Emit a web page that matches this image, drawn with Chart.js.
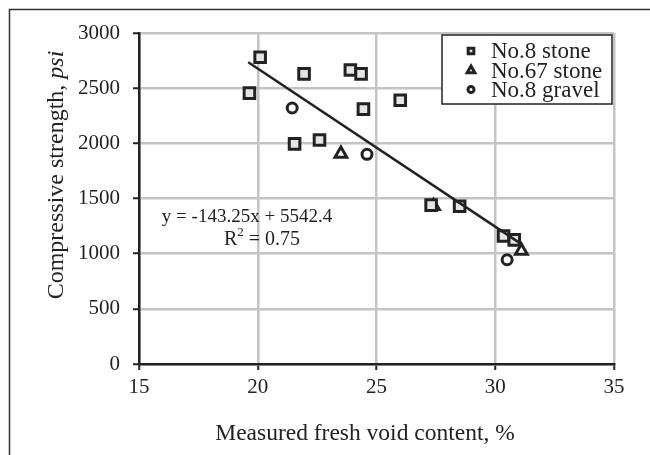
<!DOCTYPE html>
<html>
<head>
<meta charset="utf-8">
<script src="https://cdn.jsdelivr.net/npm/chart.js@4.4.0/dist/chart.umd.min.js"></script>
<style>
  html, body { margin: 0; padding: 0; background: #fff; }
  #wrap { width: 650px; height: 455px; }
</style>
</head>
<body>
<div id="wrap"><canvas id="chart" width="650" height="455"></canvas></div>
<script>
// data
const stoneX = [19.65, 20.1, 21.95, 23.9, 24.35, 24.45, 26.0, 21.55, 22.6, 27.3, 28.5, 30.35, 30.8];
const stoneY = [2455, 2780, 2630, 2665, 2630, 2310, 2390, 1995, 2030, 1440, 1430, 1160, 1125];
const stone67X = [23.5, 27.4, 31.1];
const stone67Y = [1905, 1430, 1025];
const gravelX = [21.45, 24.6, 30.5];
const gravelY = [2320, 1900, 945];
const trendX = [19.6, 31.15];
const trendY = [2735, 1080];
const seriesNames = ["No.8 stone", "No.67 stone", "No.8 gravel"];
const eqLines = ["y = -143.25x + 5542.4", "R", "2", " = 0.75"];

const FONT = "'Liberation Serif', 'Times New Roman', serif";
const INK = "#222";

const pts = (xs, ys) => xs.map((x, i) => ({ x: x, y: ys[i] }));

const markers = [
  { style: "rect", radius: 7.5, fill: "#e4e4e4", lr: 4 },
  { style: "triangle", radius: 6.8, fill: "#fff", lr: 4.4 },
  { style: "circle", radius: 5, fill: "#fff", lr: 3 }
];

const overlay = {
  id: "overlay",
  afterDraw(chart) {
    const ctx = chart.ctx;
    ctx.save();
    // outer frame (only top and left edges visible)
    ctx.strokeStyle = "#333";
    ctx.lineWidth = 1.5;
    ctx.beginPath();
    ctx.moveTo(9.5, 455);
    ctx.lineTo(9.5, 9.5);
    ctx.lineTo(650, 9.5);
    ctx.stroke();

    // legend
    ctx.fillStyle = "#fff";
    ctx.fillRect(442, 35, 170, 69);
    ctx.strokeStyle = INK;
    ctx.lineWidth = 1.5;
    ctx.strokeRect(442, 35, 170, 69);
    ctx.font = "23px " + FONT;
    ctx.textBaseline = "middle";
    ctx.textAlign = "left";
    const rows = [51, 70.5, 89.5];
    seriesNames.forEach((name, i) => {
      const m = markers[i];
      ctx.fillStyle = m.fill;
      ctx.strokeStyle = INK;
      ctx.lineWidth = 3;
      Chart.helpers.drawPoint(ctx, { pointStyle: m.style, radius: m.lr, rotation: 0, borderWidth: 3 }, 471, rows[i]);
      ctx.fillStyle = INK;
      ctx.fillText(name, 491, rows[i] + 1);
    });

    // equation
    ctx.fillStyle = INK;
    ctx.font = "19px " + FONT;
    ctx.textAlign = "center";
    ctx.fillText(eqLines[0], 247, 217);
    ctx.font = "20px " + FONT;
    const wR = ctx.measureText(eqLines[1]).width;
    const wRest = ctx.measureText(eqLines[3]).width;
    ctx.font = "13px " + FONT;
    const w2 = ctx.measureText(eqLines[2]).width;
    const total = wR + w2 + wRest;
    const x0 = 262 - total / 2;
    ctx.textAlign = "left";
    ctx.font = "20px " + FONT;
    ctx.fillText(eqLines[1], x0, 240);
    ctx.font = "13px " + FONT;
    ctx.fillText(eqLines[2], x0 + wR, 233);
    ctx.font = "20px " + FONT;
    ctx.fillText(eqLines[3], x0 + wR + w2, 240);

    // x axis title
    ctx.font = "23.5px " + FONT;
    ctx.textAlign = "center";
    ctx.fillText("Measured fresh void content, %", 365, 434);

    // y axis title with italic unit
    ctx.translate(57, 175);
    ctx.rotate(-Math.PI / 2);
    ctx.font = "24px " + FONT;
    const a = "Compressive strength, ";
    const wa = ctx.measureText(a).width;
    ctx.font = "italic 24px " + FONT;
    const wb = ctx.measureText("psi").width;
    ctx.textAlign = "left";
    ctx.font = "24px " + FONT;
    ctx.fillText(a, -(wa + wb) / 2, 0);
    ctx.font = "italic 24px " + FONT;
    ctx.fillText("psi", -(wa + wb) / 2 + wa, 0);
    ctx.restore();
  }
};

const mk = (label, data, m) => ({
  label: label,
  data: data,
  showLine: false,
  pointStyle: m.style,
  pointRadius: m.radius,
  pointHoverRadius: m.radius,
  pointBackgroundColor: m.fill,
  pointBorderColor: INK,
  pointBorderWidth: 3,
  order: 1
});

new Chart(document.getElementById("chart"), {
  type: "scatter",
  data: {
    datasets: [
      {
        label: "trend",
        data: pts(trendX, trendY),
        showLine: true,
        borderColor: INK,
        borderWidth: 2.5,
        pointRadius: 0,
        fill: false,
        order: 0
      },
      mk(seriesNames[0], pts(stoneX, stoneY), markers[0]),
      mk(seriesNames[1], pts(stone67X, stone67Y), markers[1]),
      mk(seriesNames[2], pts(gravelX, gravelY), markers[2])
    ]
  },
  options: {
    responsive: false,
    devicePixelRatio: 1,
    animation: false,
    layout: { padding: { top: 33, right: 36, left: 0, bottom: 0 } },
    plugins: { legend: { display: false }, tooltip: { enabled: false } },
    scales: {
      x: {
        type: "linear",
        min: 15,
        max: 35,
        ticks: { stepSize: 5, color: INK, font: { family: FONT, size: 21 }, padding: 5, callback: (v) => String(v) },
        grid: { color: "#c4c4c4", lineWidth: 2.5, tickColor: INK, tickLength: 6, tickWidth: 2 },
        border: { color: INK, width: 2.5 },
        afterFit: (s) => { s.height = 91; }
      },
      y: {
        min: 0,
        max: 3000,
        ticks: { stepSize: 500, color: INK, font: { family: FONT, size: 21 }, padding: 13, callback: (v) => String(v) },
        grid: { color: "#c4c4c4", lineWidth: 2.5, tickColor: INK, tickLength: 6, tickWidth: 2 },
        border: { color: INK, width: 2.5 },
        afterFit: (s) => { s.width = 139; }
      }
    }
  },
  plugins: [overlay]
});
</script>
</body>
</html>
